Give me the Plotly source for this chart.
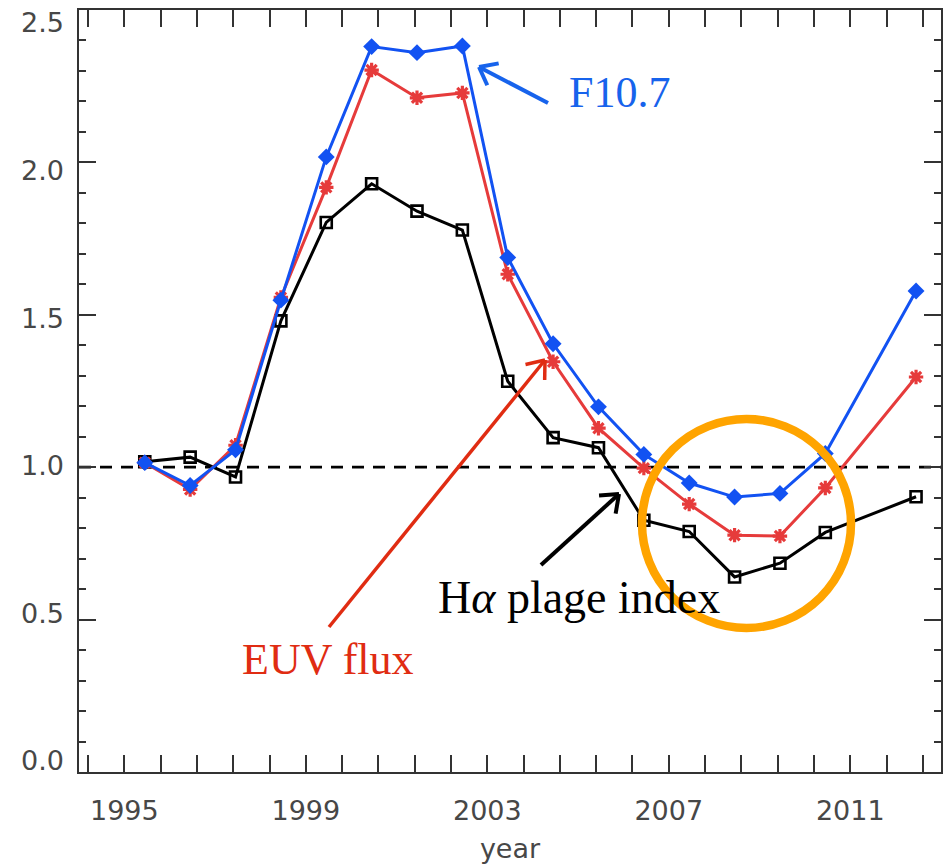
import math
import plotly.graph_objects as go

# ---------------- data ----------------
years = [1995, 1996, 1997, 1998, 1999, 2000, 2001, 2002, 2003, 2004,
         2005, 2006, 2007, 2008, 2009, 2010, 2012]
f107 = [1.015, 0.940, 1.057, 1.548, 2.018, 2.380, 2.360, 2.382, 1.688, 1.405,
        1.198, 1.042, 0.948, 0.902, 0.914, 1.045, 1.578]
euv = [1.015, 0.927, 1.072, 1.557, 1.918, 2.303, 2.212, 2.228, 1.633, 1.346,
       1.128, 0.997, 0.879, 0.777, 0.774, 0.932, 1.296]
halpha = [1.018, 1.033, 0.968, 1.480, 1.803, 1.930, 1.840, 1.778, 1.282, 1.097,
          1.064, 0.826, 0.789, 0.640, 0.685, 0.786, 0.903]
xpos = [y + 0.45 for y in years]

# ---------------- layout geometry ----------------
W, H = 948, 867
L, R, T, B = 79, 7, 10, 95
X0, X1 = 1994, 2013
Y0, Y1 = 0.0, 2.5


def X(px):
    return X0 + (px - L) * (X1 - X0) / (W - L - R)


def Y(py):
    return Y1 - (py - T) * (Y1 - Y0) / (H - T - B)


BLUE = "#1252f2"
RED = "#e63b3b"
AXC = "#333333"
TXC = "#474747"

fig = go.Figure()

fig.add_trace(go.Scatter(
    x=xpos, y=halpha, mode="lines+markers", name="Halpha",
    line=dict(color="black", width=3),
    marker=dict(symbol="square-open", size=11, color="black",
                line=dict(width=2.6, color="black"))))
fig.add_trace(go.Scatter(
    x=xpos, y=euv, mode="lines+markers", name="EUV",
    line=dict(color=RED, width=3),
    marker=dict(symbol="asterisk-open", size=12, color=RED,
                line=dict(width=3.2, color=RED))))
fig.add_trace(go.Scatter(
    x=xpos, y=f107, mode="lines+markers", name="F10.7",
    line=dict(color=BLUE, width=3),
    marker=dict(symbol="diamond", size=13, color=BLUE)))
# empty trace that only registers the label axis (draws nothing)
fig.add_trace(go.Scatter(x=[], y=[], yaxis="y2", mode="lines",
                         hoverinfo="skip", showlegend=False))

shapes = []
# reference line at 1.0
shapes.append(dict(type="line", xref="x", yref="y", x0=X0, x1=X1, y0=1.0, y1=1.0,
                   line=dict(color="black", width=2.8, dash="12px,9px"), layer="below"))

# orange circle
shapes.append(dict(type="circle", xref="x", yref="y",
                   x0=X(642), x1=X(851), y0=Y(628), y1=Y(419),
                   line=dict(color="#ffa400", width=8.5), layer="above"))


def arrow(tail, tip, color, width, hl=20, ang=38):
    tx, ty = tail
    px, py = tip
    dx, dy = px - tx, py - ty
    n = math.hypot(dx, dy)
    ux, uy = dx / n, dy / n
    out = [dict(type="line", xref="x", yref="y", x0=X(tx), y0=Y(ty), x1=X(px), y1=Y(py),
                line=dict(color=color, width=width), layer="above")]
    for s in (1, -1):
        a = math.radians(ang) * s
        rx = ux * math.cos(a) - uy * math.sin(a)
        ry = ux * math.sin(a) + uy * math.cos(a)
        out.append(dict(type="line", xref="x", yref="y", x0=X(px), y0=Y(py),
                        x1=X(px - hl * rx), y1=Y(py - hl * ry),
                        line=dict(color=color, width=width), layer="above"))
    return out


shapes += arrow((548, 103), (479, 67), "#1763ec", 4)
shapes += arrow((329, 627), (545, 360), "#e02c12", 3.5)
shapes += arrow((541, 565), (619, 494), "black", 4)

annotations = [
    dict(x=X(619), y=Y(92), xref="x", yref="y", text="F10.7", showarrow=False,
         font=dict(family="Liberation Serif", size=44, color="#1763ec")),
    dict(x=X(328), y=Y(659), xref="x", yref="y", text="EUV flux", showarrow=False,
         font=dict(family="Liberation Serif", size=44, color="#e02c12")),
    dict(x=X(579), y=Y(597), xref="x", yref="y", text="H<i>α</i> plage index",
         showarrow=False,
         font=dict(family="Liberation Serif", size=46, color="black")),
]

tickfont = dict(family="DejaVu Sans", size=27, color=TXC)

# tick labels of the value axis sit slightly inside the frame in the original,
# so they come from an overlaid label-only axis with a slightly wider scale
lab_lo = -11 * 0.5 / 147.6
lab_hi = 2.5 + 13 * 0.5 / 147.6

fig.update_layout(
    width=W, height=H,
    margin=dict(l=L, r=R, t=T, b=B),
    paper_bgcolor="white", plot_bgcolor="white",
    showlegend=False,
    shapes=shapes,
    annotations=annotations,
    xaxis=dict(range=[X0, X1], tickmode="linear", tick0=1995, dtick=4,
               automargin=False,
               ticks="inside", ticklen=17, tickwidth=2, tickcolor=AXC,
               showline=True, linecolor=AXC, linewidth=2, mirror="allticks",
               showgrid=False, zeroline=False, tickfont=tickfont,
               ticklabelstandoff=14,
               minor=dict(tick0=1995, dtick=0.8, ticks="inside", ticklen=9,
                          tickwidth=2, tickcolor=AXC, showgrid=False),
               title=dict(text="year", font=dict(family="DejaVu Sans", size=27,
                                                 color=TXC), standoff=14)),
    yaxis=dict(range=[Y0, Y1], tickmode="linear", tick0=0, dtick=0.5,
               showticklabels=False, automargin=False,
               ticks="inside", ticklen=17, tickwidth=2, tickcolor=AXC,
               showline=True, linecolor=AXC, linewidth=2, mirror="allticks",
               showgrid=False, zeroline=False,
               minor=dict(tick0=0, dtick=0.1, ticks="inside", ticklen=7,
                          tickwidth=2, tickcolor=AXC, showgrid=False)),
    yaxis2=dict(overlaying="y", side="left", range=[lab_lo, lab_hi],
                tickmode="linear", tick0=0, dtick=0.5, tickformat=".1f",
                automargin=False, ticks="", showline=False, showgrid=False,
                zeroline=False, tickfont=tickfont, ticklabelstandoff=14),
)

fig.write_html("out.html")
